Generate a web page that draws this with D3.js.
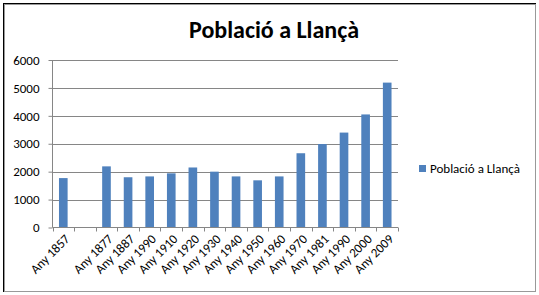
<!DOCTYPE html>
<html>
<head>
<meta charset="utf-8">
<script src="https://cdn.jsdelivr.net/npm/d3@7"></script>
<style>
  body { margin: 0; background: #fff; }
  svg { display: block; }
</style>
</head>
<body>
<svg id="chart" width="539" height="295"></svg>
<script>
// labels as they appear in the original (blank slot included)
var categories = ["Any 1857", "", "Any 1877", "Any 1887", "Any 1990", "Any 1910", "Any 1920",
    "Any 1930", "Any 1940", "Any 1950", "Any 1960", "Any 1970", "Any 1981", "Any 1990 ", "Any 2000", "Any 2009"];
var values = [1770, null, 2190, 1800, 1830, 1940, 2150, 2000, 1830, 1690, 1830, 2660, 2990, 3400, 4050, 5190];
var yTicks = [0, 1000, 2000, 3000, 4000, 5000, 6000];
var seriesName = "Població a Llançà";

var data = categories.map(function(c, i) {
    return { 'cat': c, 'value': values[i] };
});

var font = "Carlito, Calibri, 'Open Sans', sans-serif";
var svg = d3.select("#chart");

var margin = { top: 60, left: 52.5, right: 398, bottom: 227.5 };

// frame
svg.append("rect")
    .attr("x", 3.5).attr("y", 3.5)
    .attr("width", 532).attr("height", 288)
    .attr("fill", "#fff")
    .attr("stroke", "#000")
    .attr("stroke-width", 1);
svg.append("rect")
    .attr("x", 4.5).attr("y", 4.5)
    .attr("width", 531).attr("height", 287)
    .attr("fill", "none")
    .attr("stroke", "#999")
    .attr("stroke-width", 1);

var x = d3.scaleBand()
    .domain(d3.range(categories.length))
    .range([margin.left, margin.right])
    .paddingInner(0.6).paddingOuter(0.3);

var xOuter = d3.scaleBand()
    .domain(d3.range(categories.length))
    .range([margin.left, margin.right]);

var y = d3.scaleLinear()
    .domain([0, 6000])
    .range([margin.bottom, margin.top]);

// gridlines
svg.append("g")
    .selectAll("line")
    .data(yTicks.slice(1))
    .enter()
    .append("line")
    .attr("x1", margin.left).attr("x2", margin.right)
    .attr("y1", function(d) { return Math.round(y(d)) + 0.5; })
    .attr("y2", function(d) { return Math.round(y(d)) + 0.5; })
    .attr("stroke", "#868686");

// bars
svg.append("g")
    .selectAll("rect")
    .data(data.filter(function(d) { return d.value !== null; }))
    .enter()
    .append("rect")
    .attr("x", function(d) { return x(categories.indexOf(d.cat)); })
    .attr("width", x.bandwidth())
    .attr("y", function(d) { return y(d.value); })
    .attr("height", function(d) { return y(0) - y(d.value); })
    .attr("fill", "#4F81BD");

// y axis
var yAxis = svg.append("g")
    .attr("transform", "translate(" + margin.left + ",0)")
    .call(d3.axisLeft(y).tickValues(yTicks).tickFormat(d3.format("d")).tickSize(4).tickPadding(9));
yAxis.select(".domain").attr("stroke", "#868686").attr("d", "M0," + margin.top + "V" + margin.bottom);
yAxis.selectAll(".tick line").attr("stroke", "#868686");
yAxis.selectAll(".tick text")
    .attr("fill", "#000")
    .style("font-family", font)
    .style("font-size", "13px");

// x axis: ticks at band edges
var xAxisG = svg.append("g");
xAxisG.append("line")
    .attr("x1", margin.left).attr("x2", margin.right)
    .attr("y1", margin.bottom).attr("y2", margin.bottom)
    .attr("stroke", "#868686");
xAxisG.selectAll("line.tk")
    .data(d3.range(categories.length + 1))
    .enter()
    .append("line")
    .attr("class", "tk")
    .attr("x1", function(i) { return Math.round(margin.left + i * xOuter.step()) + 0.5; })
    .attr("x2", function(i) { return Math.round(margin.left + i * xOuter.step()) + 0.5; })
    .attr("y1", margin.bottom).attr("y2", margin.bottom + 4)
    .attr("stroke", "#868686");

xAxisG.selectAll("text")
    .data(data)
    .enter()
    .append("text")
    .attr("transform", function(d, i) {
        var cx = xOuter(i) + xOuter.bandwidth() / 2 + 4;
        return "translate(" + cx + "," + (margin.bottom + 9) + ") rotate(-45)";
    })
    .attr("text-anchor", "end")
    .attr("dy", "0.35em")
    .style("font-family", font)
    .style("font-size", "13px")
    .text(function(d) { return d.cat; });

// title
svg.append("text")
    .attr("x", 274)
    .attr("y", 38)
    .attr("text-anchor", "middle")
    .style("font-family", font)
    .style("font-size", "24px")
    .style("font-weight", "bold")
    .text(seriesName);

// legend
var legend = svg.append("g").attr("transform", "translate(419,165)");
legend.append("rect")
    .attr("width", 7).attr("height", 7)
    .attr("fill", "#4F81BD");
legend.append("text")
    .attr("x", 11).attr("y", 8)
    .style("font-family", font)
    .style("font-size", "13px")
    .text(seriesName);
</script>
</body>
</html>
